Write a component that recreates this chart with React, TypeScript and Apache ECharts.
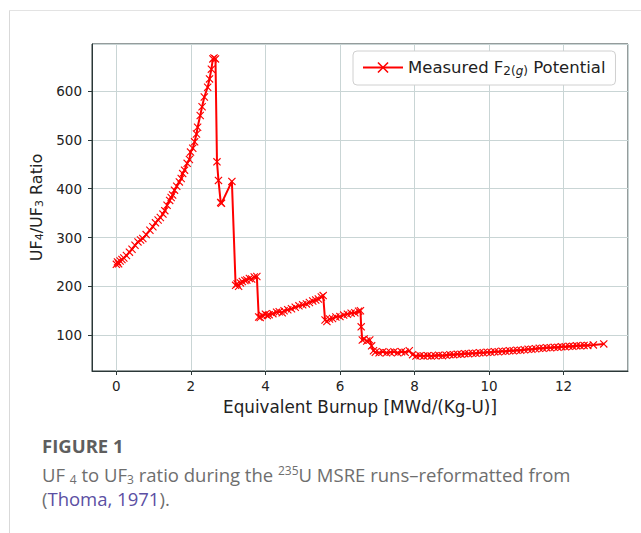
import React, { useEffect, useRef } from "react";
import * as echarts from "echarts";

const burnup = [
  0, 0.03, 0.06, 0.1, 0.15, 0.2, 0.27, 0.35, 0.42, 0.5, 0.58, 0.65, 0.71, 0.8, 0.9, 0.98,
  1.05, 1.12, 1.18, 1.25, 1.3, 1.36, 1.43, 1.47, 1.51, 1.56, 1.62, 1.69, 1.74, 1.78, 1.83,
  1.9, 1.96, 1.99, 2.05, 2.1, 2.15, 2.18, 2.25, 2.3, 2.36, 2.45, 2.5, 2.55, 2.59, 2.62, 2.66,
  2.7, 2.74, 2.8, 2.82, 3.1, 3.2, 3.24, 3.28, 3.33, 3.38, 3.45, 3.5, 3.57, 3.63, 3.7, 3.77,
  3.82, 3.86, 3.92, 4.0, 4.05, 4.1, 4.2, 4.3, 4.37, 4.45, 4.5, 4.6, 4.7, 4.8, 4.9, 5.0, 5.1,
  5.18, 5.27, 5.35, 5.42, 5.5, 5.55, 5.6, 5.65, 5.72, 5.8, 5.89, 6.0, 6.1, 6.2, 6.3, 6.4,
  6.5, 6.55, 6.57, 6.6, 6.65, 6.72, 6.8, 6.85, 6.9, 6.95, 7.05, 7.15, 7.25, 7.35, 7.45, 7.55,
  7.65, 7.75, 7.86, 7.95, 8.04, 8.15, 8.25, 8.35, 8.45, 8.55, 8.65, 8.75, 8.85, 8.95, 9.05,
  9.15, 9.25, 9.35, 9.45, 9.55, 9.65, 9.75, 9.85, 9.95, 10.05, 10.15, 10.25, 10.35, 10.45,
  10.55, 10.65, 10.75, 10.85, 10.95, 11.05, 11.15, 11.25, 11.35, 11.45, 11.55, 11.65, 11.75,
  11.85, 11.95, 12.05, 12.15, 12.25, 12.35, 12.45, 12.55, 12.65, 12.8, 13.08,
];

const ratio = [
  245, 250, 246, 252, 255, 258, 263, 270, 276, 284, 291, 295, 298, 306, 315, 322,
  330, 336, 341, 348, 355, 366, 376, 382, 387, 397, 405, 414, 421, 431, 438,
  452, 460, 475, 483, 496, 512, 526, 550, 568, 588, 608, 625, 645, 666, 668, 666,
  455, 417, 372, 370, 415, 202, 205, 200, 207, 210, 212, 213, 216, 215, 219, 220,
  137, 136, 140, 143, 140, 142, 144, 147, 148, 146, 150, 152, 154, 157, 160, 162, 164,
  167, 170, 172, 174, 178, 181, 131, 128, 133, 134, 137, 138, 141, 143, 145, 146,
  149, 150, 117, 90, 92, 88, 90, 78, 68, 65, 64, 66, 64, 65, 66, 64,
  66, 65, 68, 60, 57, 58, 57, 58, 57, 58, 59, 58, 59, 60, 60,
  61, 61, 62, 62, 63, 63, 64, 64, 65, 65, 66, 66, 67, 67,
  68, 68, 69, 69, 70, 71, 71, 72, 73, 73, 74, 74, 75,
  75, 76, 76, 77, 77, 78, 78, 79, 79, 80, 82,
];

const seriesName = "Measured F2(g) Potential";
const xAxisTitle = "Equivalent Burnup [MWd/(Kg-U)]";
const captionTitle = "FIGURE 1";

const AXIS = "#2b3838";
const GRIDC = "#c9d5d5";
const XMARK = "path://M1,0 L5,4 L9,0 L10,1 L6,5 L10,9 L9,10 L5,6 L1,10 L0,9 L4,5 L0,1 Z";

export default function App() {
  const ref = useRef<HTMLDivElement>(null);
  useEffect(() => {
    if (!ref.current) return;
    const chart = echarts.init(ref.current, null, { renderer: "svg" });
    const data = burnup.map((x, i) => [x, ratio[i]]);
    chart.setOption({
      animation: false,
      backgroundColor: "#ffffff",
      grid: {
        left: 92,
        top: 44,
        right: 13,
        bottom: 162,
        show: true,
        borderColor: AXIS,
        borderWidth: 1,
        backgroundColor: "transparent",
      },
      legend: {
        show: true,
        left: 353,
        top: 51,
        padding: [8, 10, 8, 9],
        backgroundColor: "#ffffff",
        borderColor: "#d0d0d0",
        borderWidth: 1,
        borderRadius: 4,
        itemWidth: 40,
        itemHeight: 14,
        itemGap: 10,
        formatter: () => "Measured F{sub|2(}{subi|g}{sub|)} Potential",
        textStyle: {
          fontFamily: "DejaVu Sans",
          fontSize: 16.5,
          color: "#222",
          rich: {
            sub: { fontFamily: "DejaVu Sans", fontSize: 12, color: "#222", padding: [7, 0, 0, 0] },
            subi: { fontFamily: "DejaVu Sans", fontStyle: "italic", fontSize: 12, color: "#222", padding: [7, 0, 0, 0] },
          },
        },
        data: [{ name: seriesName }],
      },
      xAxis: {
        type: "value",
        min: -0.654,
        max: 13.73,
        splitNumber: 7,
        name: xAxisTitle,
        nameLocation: "middle",
        nameGap: 27,
        nameTextStyle: { fontFamily: "DejaVu Sans", fontSize: 16.8, color: "#222" },
        axisLine: { show: true, onZero: false, lineStyle: { color: AXIS, width: 1 } },
        axisTick: { show: true, length: 4, lineStyle: { color: AXIS } },
        axisLabel: {
          showMinLabel: false,
          showMaxLabel: false,
          margin: 8,
          fontFamily: "DejaVu Sans",
          fontSize: 13.5,
          color: "#222",
        },
        splitLine: { show: true, lineStyle: { color: GRIDC, width: 1 } },
      },
      yAxis: {
        type: "value",
        min: 26.5,
        max: 696.5,
        splitNumber: 7,
        name: "UF{sub|4}/UF{sub|3} Ratio",
        nameLocation: "middle",
        nameGap: 44,
        nameTextStyle: {
          fontFamily: "DejaVu Sans",
          fontSize: 16,
          color: "#222",
          rich: {
            sub: { fontFamily: "DejaVu Sans", fontSize: 11, color: "#222", padding: [7, 0, 0, 0] },
          },
        },
        axisLine: { show: true, onZero: false, lineStyle: { color: AXIS, width: 1 } },
        axisTick: { show: true, length: 4, lineStyle: { color: AXIS } },
        axisLabel: {
          showMinLabel: false,
          showMaxLabel: false,
          margin: 10,
          fontFamily: "DejaVu Sans",
          fontSize: 13.5,
          color: "#222",
        },
        splitLine: { show: true, lineStyle: { color: GRIDC, width: 1 } },
      },
      series: [
        {
          name: seriesName,
          type: "line",
          data,
          symbol: XMARK,
          symbolSize: 8,
          showAllSymbol: true,
          itemStyle: { color: "#ff0000" },
          lineStyle: { color: "#ff0000", width: 2 },
          z: 3,
        },
      ],
      graphic: [
        {
          type: "line",
          shape: { x1: 9.5, y1: 10, x2: 9.5, y2: 533 },
          style: { stroke: "#d9d9d9", lineWidth: 1 },
          silent: true,
        },
        {
          type: "line",
          shape: { x1: 9, y1: 10.5, x2: 641, y2: 10.5 },
          style: { stroke: "#e3e3e3", lineWidth: 1 },
          silent: true,
        },
        {
          type: "text",
          left: 42,
          top: 436,
          style: {
            text: captionTitle,
            font: 'bold 18.5px "Open Sans"',
            fill: "#5e5e5e",
          },
        },
        {
          type: "text",
          left: 42,
          top: 464,
          style: {
            text: "UF {sub|4} to UF{sub|3} ratio during the {sup|235}U MSRE runs\u2013reformatted from",
            font: '18.5px "Open Sans"',
            fill: "#6e6e6e",
            rich: {
              sub: { font: '12px "Open Sans"', fill: "#6e6e6e", padding: [9, 0, 0, 0] },
              sup: { font: '12px "Open Sans"', fill: "#6e6e6e", padding: [0, 0, 9, 0] },
            },
          },
        },
        {
          type: "text",
          left: 42,
          top: 489,
          style: {
            text: "({link|Thoma, 1971}).",
            font: '18.5px "Open Sans"',
            fill: "#6e6e6e",
            rich: {
              link: { font: '18.5px "Open Sans"', fill: "#5b4fa3" },
            },
          },
        },
      ],
    });
    return () => chart.dispose();
  }, []);
  return (
    <div
      ref={ref}
      style={{ position: "absolute", left: 0, top: 0, width: 641, height: 533 }}
    />
  );
}
